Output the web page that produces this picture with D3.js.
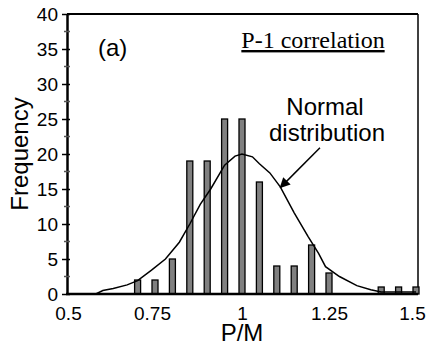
<!DOCTYPE html>
<html>
<head>
<meta charset="utf-8">
<script src="https://cdn.jsdelivr.net/npm/d3@7/dist/d3.min.js"></script>
<style>
body { margin: 0; background: #fff; }
text { font-family: "Liberation Sans", Arial, sans-serif; fill: #000; }
</style>
</head>
<body>
<svg id="chart"></svg>
<script>
// histogram of P/M ratios
var binCenters = [0.70, 0.75, 0.80, 0.85, 0.90, 0.95, 1.00, 1.05, 1.10, 1.15, 1.20, 1.25, 1.40, 1.45, 1.50];
var frequency  = [2, 2, 5, 19, 19, 25, 25, 16, 4, 4, 7, 3, 1, 1, 1];

// fitted normal curve
var curveX = [0.50, 0.58, 0.60, 0.63, 0.67, 0.70, 0.74, 0.78, 0.82, 0.85, 0.88, 0.91, 0.95, 0.98, 1.00, 1.03, 1.05, 1.08, 1.11, 1.15, 1.19, 1.22, 1.24, 1.28, 1.33, 1.37, 1.40, 1.50];
var curveY = [0, 0, 0.5, 0.8, 1.3, 1.9, 3.4, 5.0, 7.4, 10.0, 12.8, 15.0, 18.4, 19.7, 20.0, 19.6, 18.6, 17.3, 15.3, 11.6, 8.2, 5.8, 3.9, 2.5, 1.2, 0.6, 0.3, 0.3];

var xTicks = [0.5, 0.75, 1, 1.25, 1.5];
var yTicks = [0, 5, 10, 15, 20, 25, 30, 35, 40];

var screen = {width: 428, height: 346};
var margins = {left: 68, right: 12, top: 14, bottom: 52};

var svg = d3.select("#chart")
    .attr("width", screen.width)
    .attr("height", screen.height);

var xScale = d3.scaleLinear()
    .domain([0.5, 1.5])
    .range([margins.left, screen.width - margins.right]);

var yScale = d3.scaleLinear()
    .domain([0, 40])
    .range([screen.height - margins.bottom, margins.top]);

var plotLeft = xScale(0.5) - 1, plotRight = xScale(1.5) + 2;
var plotTop = yScale(40), plotBottom = yScale(0);

// frame (top + right)
svg.append("line")
    .attr("x1", plotLeft).attr("x2", plotRight)
    .attr("y1", plotTop).attr("y2", plotTop)
    .attr("stroke", "#000").attr("stroke-width", 2);
svg.append("line")
    .attr("x1", plotRight).attr("x2", plotRight)
    .attr("y1", plotTop).attr("y2", plotBottom)
    .attr("stroke", "#000").attr("stroke-width", 1.5);

// bars
svg.append("g")
    .selectAll("rect")
    .data(binCenters)
    .enter()
    .append("rect")
    .attr("x", function(d) { return xScale(d) - 3; })
    .attr("width", 6)
    .attr("y", function(d, i) { return yScale(frequency[i]); })
    .attr("height", function(d, i) { return yScale(0) - yScale(frequency[i]); })
    .attr("fill", "#808080")
    .attr("stroke", "#000")
    .attr("stroke-width", 1.3);

// normal curve
var line = d3.line()
    .x(function(d) { return xScale(d); })
    .y(function(d, i) { return yScale(curveY[i]); });

svg.append("path")
    .datum(curveX)
    .attr("fill", "none")
    .attr("stroke", "#000")
    .attr("stroke-width", 1.5)
    .attr("d", line);

// y axis
var yAxis = d3.axisLeft(yScale)
    .tickValues(yTicks)
    .tickSizeInner(5)
    .tickSizeOuter(0)
    .tickPadding(4);

var gy = svg.append("g")
    .attr("transform", "translate(" + plotLeft + ",0)")
    .call(yAxis);
gy.select(".domain").attr("stroke-width", 2.5);
gy.selectAll(".tick line").attr("stroke-width", 1.5).attr("x2", -5).attr("x1", 3);
gy.selectAll(".tick text")
    .style("font-size", "19px")
    .style("font-family", "Liberation Sans, Arial, sans-serif");

// minor ticks
svg.append("g")
    .selectAll("line")
    .data(d3.range(2.5, 40, 5))
    .enter()
    .append("line")
    .attr("x1", plotLeft - 3).attr("x2", plotLeft + 3)
    .attr("y1", function(d) { return yScale(d); })
    .attr("y2", function(d) { return yScale(d); })
    .attr("stroke", "#555")
    .attr("stroke-width", 1.5);

// x axis
var xAxis = d3.axisBottom(xScale)
    .tickValues(xTicks)
    .tickSize(0)
    .tickPadding(13)
    .tickFormat(function(d) { return String(d); });

var gx = svg.append("g")
    .attr("transform", "translate(0," + plotBottom + ")")
    .call(xAxis);
gx.select(".domain").attr("stroke-width", 2.5)
    .attr("d", "M" + (plotLeft - 1) + ",0H" + plotRight);
gx.selectAll(".tick text")
    .style("font-size", "19px")
    .style("font-family", "Liberation Sans, Arial, sans-serif")
    .attr("dx", function(d) { return d === 1.5 ? -4 : (d === 0.75 ? -3 : 0); });

// labels
svg.append("text")
    .text("P/M")
    .attr("x", xScale(1))
    .attr("y", 341)
    .attr("text-anchor", "middle")
    .style("font-size", "24px");

svg.append("g")
    .attr("transform", "translate(28," + ((plotTop + plotBottom) / 2) + ")")
    .append("text")
    .text("Frequency")
    .attr("text-anchor", "middle")
    .attr("transform", "rotate(-90)")
    .style("font-size", "24px");

svg.append("text")
    .text("(a)")
    .attr("x", 98)
    .attr("y", 56)
    .style("font-size", "24px");

svg.append("text")
    .text("P-1 correlation")
    .attr("x", 313)
    .attr("y", 48)
    .attr("text-anchor", "middle")
    .style("font-family", "Liberation Serif, Times New Roman, serif")
    .style("font-size", "24px")
    .style("text-decoration", "underline");

var note = svg.append("text")
    .attr("text-anchor", "middle")
    .style("font-size", "24px");
note.append("tspan").text("Normal").attr("x", 325).attr("y", 115);
note.append("tspan").text("distribution").attr("x", 327).attr("y", 141);

// arrow
svg.append("defs").append("marker")
    .attr("id", "arrow")
    .attr("viewBox", "0 0 10 10")
    .attr("refX", 9).attr("refY", 5)
    .attr("markerWidth", 7).attr("markerHeight", 7)
    .attr("orient", "auto")
    .append("path")
    .attr("d", "M0,0L10,5L0,10z")
    .attr("fill", "#000");

svg.append("line")
    .attr("x1", xScale(1.224)).attr("y1", yScale(20.9))
    .attr("x2", xScale(1.11)).attr("y2", yScale(15.2))
    .attr("stroke", "#000")
    .attr("stroke-width", 1.5)
    .attr("marker-end", "url(#arrow)");
</script>
</body>
</html>
